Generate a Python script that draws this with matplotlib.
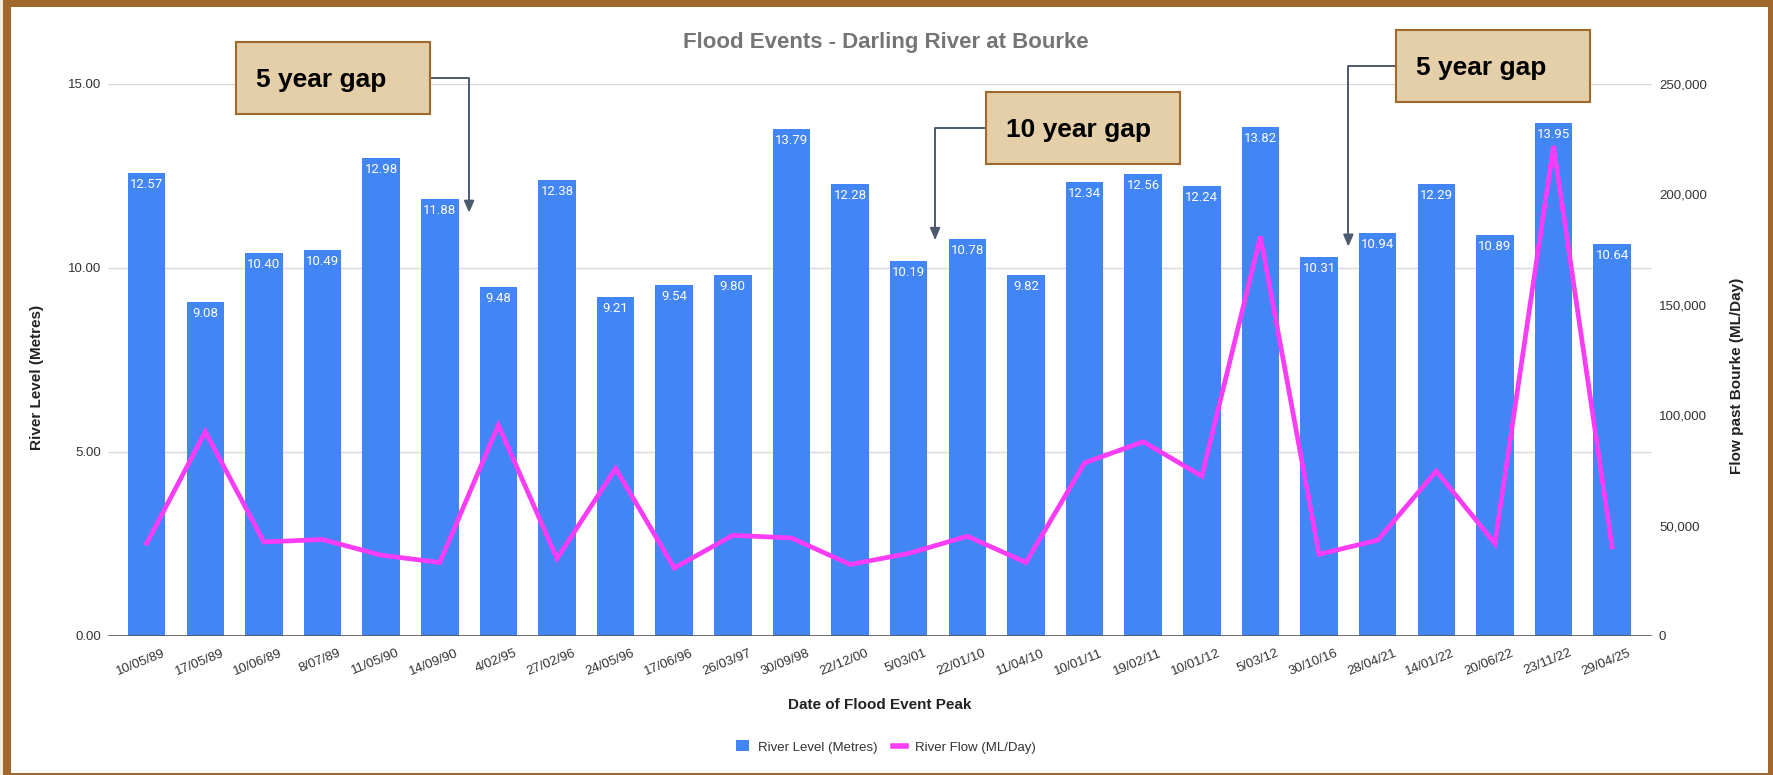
import numpy as np
import matplotlib
matplotlib.use("Agg")
import matplotlib.pyplot as plt  # noqa: E402
from matplotlib.patches import Rectangle, Patch  # noqa: E402
from matplotlib.lines import Line2D  # noqa: E402
from matplotlib.ticker import FuncFormatter  # noqa: E402
from matplotlib.transforms import ScaledTranslation  # noqa: E402

plt.rcParams["font.family"] = ["Liberation Sans", "DejaVu Sans"]

# ---- data ----
dates = ["10/05/89", "17/05/89", "10/06/89", "8/07/89", "11/05/90", "14/09/90",
         "4/02/95", "27/02/96", "24/05/96", "17/06/96", "26/03/97", "30/09/98",
         "22/12/00", "5/03/01", "22/01/10", "11/04/10", "10/01/11", "19/02/11",
         "10/01/12", "5/03/12", "30/10/16", "28/04/21", "14/01/22", "20/06/22",
         "23/11/22", "29/04/25"]
level_m = [12.57, 9.08, 10.40, 10.49, 12.98, 11.88, 9.48, 12.38, 9.21, 9.54,
           9.80, 13.79, 12.28, 10.19, 10.78, 9.82, 12.34, 12.56, 12.24, 13.82,
           10.31, 10.94, 12.29, 10.89, 13.95, 10.64]
flow_mld = [42000, 92500, 42600, 43700, 36600, 33300, 95500, 35100, 75900,
            30800, 45600, 44400, 32400, 37400, 45200, 33300, 78400, 88000,
            72400, 181000, 37000, 43400, 74700, 41900, 222000, 40300]
gap_labels = ["5 year gap", "10 year gap", "5 year gap"]
gap_after = [5, 13, 20]          # gap sits between this event and the next

# ---- style ----
W, H = 1773, 775
BLUE = "#4285F4"
MAGENTA = "#F93CF6"
BROWN = "#A0692B"
TAN = "#E4CFA8"
ARROW = "#4C5A6E"
TXT = "#333333"


def fx(px):
    return px / W


def fy(py):
    return 1 - py / H


fig = plt.figure(figsize=(W / 100, H / 100), dpi=100, facecolor="#F4EBDD")
fig.patches.append(Rectangle((fx(3), 0), 1 - fx(3), 1, transform=fig.transFigure,
                             fc=BROWN, ec="none", zorder=-2))
fig.patches.append(Rectangle((fx(11), fy(773)), fx(1768) - fx(11), fy(7) - fy(773),
                             transform=fig.transFigure, fc="white", ec="none",
                             zorder=-1))

ax = fig.add_axes([fx(108), fy(636), fx(1652) - fx(108), fy(84) - fy(636)])
x = np.arange(len(dates))
ax.bar(x, level_m, width=0.64, color=BLUE, zorder=2)
for xi, v in zip(x, level_m):
    ax.annotate(f"{v:.2f}", (xi, v), xytext=(0, -8.3), textcoords="offset points",
                ha="center", va="center", color="white", fontsize=9.5,
                family="Roboto", zorder=3)
ax.set_xlim(-0.66, 25.68)
ax.set_ylim(0, 15)
ax.set_yticks([0, 5, 10, 15])
ax.yaxis.set_major_formatter(FuncFormatter(lambda v, _: f"{v:.2f}"))
ax.grid(axis="y", color="#D9D9D9", lw=1)
ax.set_axisbelow(True)
ax.axhline(0, color="#555555", lw=1.2, zorder=3)
for s in ax.spines.values():
    s.set_visible(False)
ax.tick_params(axis="y", length=0, pad=5, labelsize=9.5, labelcolor=TXT)
ax.set_xticks(x)
ax.set_xticklabels(dates, rotation=22, ha="right", va="center",
                   rotation_mode="anchor", fontsize=9.5, color=TXT)
ax.tick_params(axis="x", length=0, pad=12)
for lab in ax.get_xticklabels():
    lab.set_transform(lab.get_transform()
                      + ScaledTranslation(0.18, 0, fig.dpi_scale_trans))

ax2 = ax.twinx()
ax2.plot(x, flow_mld, color=MAGENTA, lw=3.4, solid_joinstyle="miter", zorder=4)
ax2.set_ylim(0, 250000)
ax2.set_yticks(np.arange(0, 250001, 50000))
ax2.yaxis.set_major_formatter(FuncFormatter(lambda v, _: f"{v:,.0f}"))
for s in ax2.spines.values():
    s.set_visible(False)
ax2.tick_params(axis="y", length=0, pad=5, labelsize=9.5, labelcolor=TXT)

fig.text(fx(886), fy(48), "Flood Events - Darling River at Bourke", ha="center",
         va="baseline", fontsize=16, fontweight="bold", color="#757575")
fig.text(fx(880), fy(705), "Date of Flood Event Peak", ha="center", va="center",
         fontsize=11, fontweight="bold", color="#222222")
fig.text(fx(37), fy(377), "River Level (Metres)", rotation=90, ha="center",
         va="center", fontsize=11, fontweight="bold", color="#222222")
fig.text(fx(1737), fy(376), "Flow past Bourke (ML/Day)", rotation=90, ha="center",
         va="center", fontsize=11, fontweight="bold", color="#222222")

handles = [Patch(facecolor=BLUE), Line2D([], [], color=MAGENTA, lw=4)]
fig.legend(handles, ["River Level (Metres)", "River Flow (ML/Day)"], loc="center",
           bbox_to_anchor=(fx(886), fy(747)), ncol=2, frameon=False, fontsize=9.5,
           handlelength=0.95, handleheight=0.9, handletextpad=0.7,
           columnspacing=1.2, labelcolor=TXT)

# gap call-outs: box top-left in px, side the connector leaves from, tip spot
box_px = [(236, 42, "right"), (986, 92, "left"), (1396, 30, "left")]
tip_dx = [0.5, 0.45, 0.5]
tip_y = [11.5, 10.76, 10.58]
BW, BH = 194, 72
for label, after, (bx, by, side), tdx, ty in zip(gap_labels, gap_after, box_px,
                                                  tip_dx, tip_y):
    start = bx + BW if side == "right" else bx
    ax.annotate("", xy=(after + tdx, ty), xycoords="data",
                xytext=(fx(start), fy(by + BH / 2)), textcoords="figure fraction",
                arrowprops=dict(arrowstyle="-|>,head_length=0.7,head_width=0.3",
                                connectionstyle="angle,angleA=0,angleB=90,rad=0",
                                color=ARROW, lw=1.4, shrinkA=0, shrinkB=0),
                annotation_clip=False)
    fig.add_artist(Rectangle((fx(bx), fy(by + BH)), BW / W, BH / H,
                             transform=fig.transFigure, fc=TAN, ec=BROWN, lw=1.5,
                             zorder=5))
    fig.text(fx(bx + 19.5), fy(by + 45), label, ha="left", va="baseline",
             fontsize=19, fontweight="bold", color="black", zorder=6)

fig.savefig("out.png", dpi=100, facecolor=fig.get_facecolor())
